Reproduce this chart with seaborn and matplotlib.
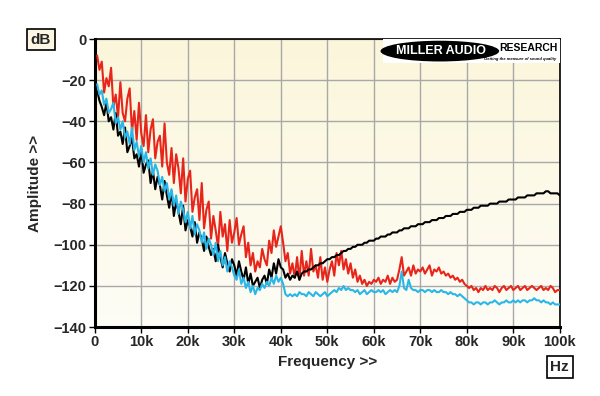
import numpy as np
import pandas as pd
import matplotlib
matplotlib.use("Agg")
import matplotlib.pyplot as plt
from matplotlib.patches import Ellipse, Rectangle
import seaborn as sns

# ---------------- data ----------------
freq_khz = [round(0.5 * i, 1) for i in range(1, 201)]

red_db = [
    -8, -15, -11, -26, -19, -23, -14, -33, -27, -38,
    -21, -36, -40, -29, -24, -45, -35, -49, -31, -46,
    -52, -37, -55, -44, -39, -58, -50, -47, -62, -41,
    -60, -66, -53, -70, -56, -63, -75, -58, -79, -68,
    -64, -84, -77, -73, -88, -70, -92, -83, -79, -97,
    -86, -93, -101, -84, -96, -90, -103, -88, -99, -94,
    -87, -100, -95, -91, -106, -99, -110, -104, -113, -108,
    -111, -102, -107, -110, -98, -104, -93, -101, -96, -91,
    -99, -108, -104, -114, -109, -116, -106, -117, -103, -115,
    -108, -115, -102, -113, -110, -116, -106, -117, -111, -118,
    -112, -108, -115, -104, -110, -103, -112, -107, -114, -109,
    -116, -112, -118, -115, -119, -117, -120, -118, -119, -117,
    -118, -116, -119, -117, -118, -115, -119, -116, -118, -117,
    -112, -106, -115, -113, -111, -115, -110, -114, -112, -113,
    -111, -114, -112, -110, -115, -112, -113, -111, -114, -113,
    -115, -114, -116, -115, -117, -116, -118, -117, -119, -120,
    -121, -120, -122, -121, -123, -121, -122, -120, -122, -121,
    -122, -120, -121, -123, -121, -120, -122, -121, -120, -122,
    -121, -120, -122, -121, -120, -122, -121, -120, -121, -122,
    -121, -120, -122, -121, -122, -120, -121, -123, -122, -122,
]

black_db = [
    -25, -30, -33, -37, -31, -40, -38, -44, -36, -47,
    -45, -51, -43, -55, -52, -48, -58, -56, -62, -54,
    -65, -61, -59, -70, -64, -73, -67, -71, -78, -69,
    -76, -82, -74, -86, -79, -84, -90, -81, -93, -88,
    -91, -96, -89, -99, -94, -97, -103, -96, -101, -105,
    -102, -108, -100, -106, -111, -104, -109, -113, -107, -110,
    -115, -108, -113, -117, -111, -119, -114, -120, -118, -116,
    -121, -117, -115, -119, -112, -116, -109, -114, -107, -111,
    -112, -116, -114, -117, -115, -116, -113, -117, -114, -113,
    -113, -112, -112, -111, -110, -110, -109, -109, -108, -107,
    -107, -106, -106, -105, -105, -104, -103, -103, -102, -102,
    -101, -101, -100, -100, -100, -99, -99, -98, -98, -98,
    -97, -97, -96, -96, -96, -95, -95, -94, -94, -94,
    -93, -93, -92, -92, -92, -91, -91, -91, -90, -90,
    -90, -89, -89, -89, -88, -88, -88, -87, -87, -87,
    -86, -86, -86, -85, -85, -85, -84, -84, -84, -83,
    -83, -83, -82, -82, -82, -81, -81, -81, -81, -80,
    -80, -80, -80, -79, -79, -79, -79, -78, -78, -78,
    -78, -77, -77, -77, -77, -76, -76, -76, -76, -75,
    -75, -75, -75, -74, -74, -75, -75, -75, -75, -76,
]

cyan_db = [
    -22, -27, -25, -32, -29, -36, -34, -31, -41, -38,
    -44, -40, -48, -45, -51, -43, -54, -50, -57, -52,
    -60, -55, -63, -58, -66, -61, -64, -71, -67, -74,
    -70, -78, -73, -81, -76, -85, -79, -83, -89, -84,
    -92, -86, -95, -90, -93, -99, -94, -102, -97, -100,
    -105, -99, -108, -103, -110, -106, -113, -108, -111, -115,
    -117, -112, -119, -116, -121, -118, -123, -120, -124, -121,
    -122, -119, -121, -118, -120, -116, -119, -115, -118, -116,
    -119, -124, -125, -124, -125, -124, -125, -123, -124, -124,
    -125, -123, -124, -125, -123, -124, -125, -124, -123, -125,
    -124, -123, -122, -123, -121, -122, -120, -122, -121, -122,
    -122, -123, -122, -124, -123, -122, -124, -123, -122, -123,
    -123, -122, -123, -122, -124, -123, -122, -123, -122, -123,
    -120, -113, -121, -122, -117, -121, -122, -122, -123, -122,
    -122, -123, -122, -122, -123, -122, -123, -123, -122, -123,
    -123, -124, -123, -124, -124, -125, -124, -125, -126, -127,
    -128, -128, -129, -128, -128, -129, -128, -128, -129, -128,
    -128, -127, -128, -129, -128, -128, -127, -128, -128, -127,
    -128, -127, -128, -127, -127, -128, -127, -127, -126, -127,
    -127, -128, -127, -128, -128, -129, -128, -129, -129, -129,
]

x_ticks_khz = [0, 10, 20, 30, 40, 50, 60, 70, 80, 90, 100]
x_tick_labels = ["0", "10k", "20k", "30k", "40k", "50k", "60k", "70k", "80k", "90k", "100k"]
y_ticks = [0, -20, -40, -60, -80, -100, -120, -140]

series_names = ["red", "black", "cyan"]
palette = {"red": "#E8251B", "black": "#000000", "cyan": "#29B7EA"}

# ---------------- build frame ----------------
df = pd.concat([
    pd.DataFrame({"freq": freq_khz, "db": red_db, "series": "red"}),
    pd.DataFrame({"freq": freq_khz, "db": black_db, "series": "black"}),
    pd.DataFrame({"freq": freq_khz, "db": cyan_db, "series": "cyan"}),
], ignore_index=True)

sns.set_theme(style="white")
plt.rcParams["font.family"] = ["Liberation Sans", "DejaVu Sans"]

fig = plt.figure(figsize=(6.0, 3.96), dpi=100, facecolor="white")
ax = fig.add_axes([0.158, 0.174, 0.775, 0.7275])

# cream gradient background
grad = np.linspace(0, 1, 256).reshape(-1, 1)
cmap = matplotlib.colors.LinearSegmentedColormap.from_list("cream", ["#FBF6DA", "#FEFDF6"])
ax.imshow(grad, extent=[0, 1, 0, 1], transform=ax.transAxes, cmap=cmap,
          aspect="auto", zorder=0, origin="upper")

sns.lineplot(data=df, x="freq", y="db", hue="series", hue_order=series_names,
             palette=palette, estimator=None, sort=True, linewidth=1.5,
             legend=False, ax=ax, zorder=3)

ax.set_xlim(0, 100)
ax.set_ylim(-140, 0)
ax.set_xticks(x_ticks_khz)
ax.set_xticklabels(x_tick_labels)
ax.set_yticks(y_ticks)
ax.grid(True, color="#A8A8A8", linewidth=1.0, zorder=1)
ax.set_axisbelow(True)

for lbl in ax.get_xticklabels() + ax.get_yticklabels():
    lbl.set_fontweight("bold")
    lbl.set_fontsize(10.5)
ax.tick_params(axis="both", which="both", direction="out", length=4, width=1,
               color="black", pad=2, left=True, bottom=True)

for side in ["top", "right"]:
    ax.spines[side].set_color("black")
    ax.spines[side].set_linewidth(1.2)
for side in ["left", "bottom"]:
    ax.spines[side].set_color("black")
    ax.spines[side].set_linewidth(2.2)

ax.set_xlabel("Frequency >>", fontsize=11, fontweight="bold", labelpad=4)
ax.set_ylabel("Amplitude >>", fontsize=11, fontweight="bold", labelpad=8)

# unit boxes
box = dict(boxstyle="square,pad=0.25", facecolor="#FBF7E2", edgecolor="black", linewidth=1.2)
fig.text(0.068, 0.900, "dB", fontsize=11, fontweight="bold", ha="center", va="center", bbox=box)
box2 = dict(boxstyle="square,pad=0.25", facecolor="white", edgecolor="black", linewidth=1.2)
fig.text(0.933, 0.073, "Hz", fontsize=11, fontweight="bold", ha="center", va="center", bbox=box2)

# logo
ax.add_patch(Rectangle((0.62, 0.915), 0.38, 0.085, transform=ax.transAxes,
                       facecolor="white", edgecolor="none", zorder=4))
ax.add_patch(Ellipse((0.742, 0.958), 0.255, 0.072, transform=ax.transAxes,
                     facecolor="black", edgecolor="none", zorder=5))
ax.text(0.745, 0.958, "MILLER AUDIO", transform=ax.transAxes, color="white",
        fontsize=9, fontweight="heavy", ha="center", va="center", zorder=6)
ax.text(0.995, 0.970, "RESEARCH", transform=ax.transAxes, color="black",
        fontsize=7.5, fontweight="heavy", ha="right", va="center", zorder=6)
ax.text(0.993, 0.929, "Getting the measure of sound quality", transform=ax.transAxes,
        color="black", fontsize=3.0, fontweight="bold", fontstyle="italic",
        ha="right", va="center", zorder=6)

fig.savefig("out.png", dpi=100, facecolor="white")
